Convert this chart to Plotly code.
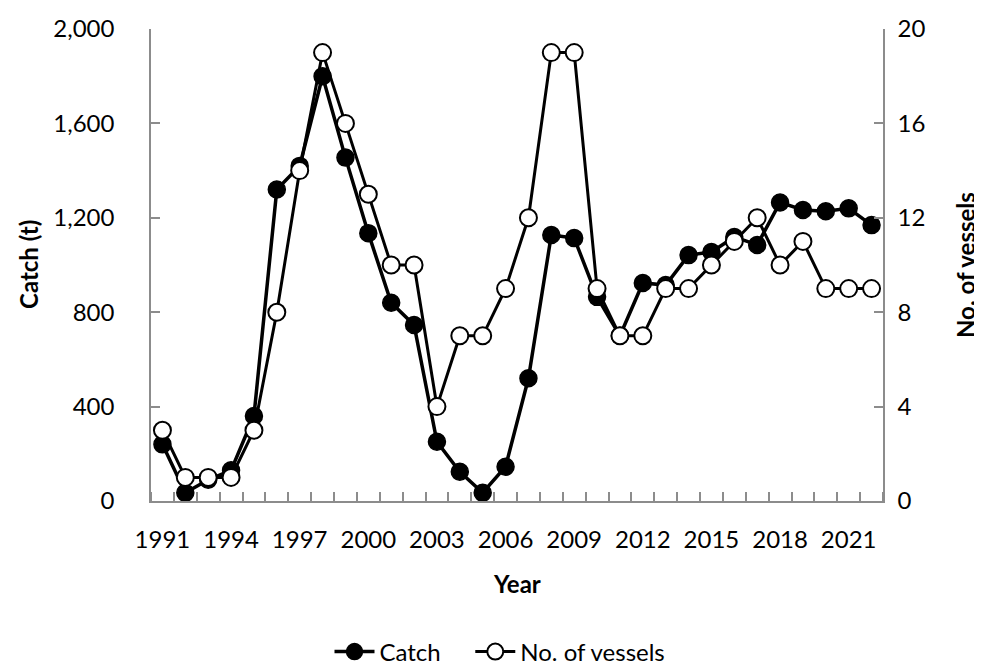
import plotly.graph_objects as go

years = list(range(1991, 2023))
catch = [240, 35, 90, 130, 360, 1320, 1420, 1800, 1455, 1135, 840, 746, 251, 124, 35, 145,
         520, 1127, 1114, 865, 700, 924, 915, 1042, 1055, 1119, 1085, 1265, 1233, 1228, 1240, 1169]
vessels = [3, 1, 1, 1, 3, 8, 14, 19, 16, 13, 10, 10, 4, 7, 7, 9,
           12, 19, 19, 9, 7, 7, 9, 9, 10, 11, 12, 10, 11, 9, 9, 9]
xtick_years = list(range(1991, 2023, 3))
catch_ticks = [0, 400, 800, 1200, 1600, 2000]
vessel_ticks = [0, 4, 8, 12, 16, 20]

FONT = "Lato"
FS = 24
OFF = 8  # page body margin
W, H = 982 - OFF, 666 - OFF
L, R, T, B = 151 - OFF, 883 - OFF, 29 - OFF, 501 - OFF
fig = go.Figure()
fig.add_trace(go.Scatter(
    x=years, y=catch, name="Catch&nbsp;&nbsp;&nbsp;&nbsp;", mode="lines+markers",
    line=dict(color="black", width=3.5),
    marker=dict(symbol="circle", size=17, color="black", line=dict(color="black", width=1.5)),
    yaxis="y"))
fig.add_trace(go.Scatter(
    x=years, y=vessels, name="No. of vessels", mode="lines+markers",
    line=dict(color="black", width=3),
    marker=dict(symbol="circle", size=17, color="white", line=dict(color="black", width=2)),
    yaxis="y2"))

axis_common = dict(showgrid=False, zeroline=False, showline=True, linecolor="#8c8c8c", linewidth=1.5,
                   tickfont=dict(family=FONT, size=FS, color="black"), automargin=False)

fig.update_layout(
    width=W, height=H,
    margin=dict(l=L, r=W - R, t=T, b=H - B, autoexpand=False),
    paper_bgcolor="white", plot_bgcolor="white",
    font=dict(family=FONT, size=FS, color="black"),
    xaxis=dict(**axis_common, range=[1990.5, 2022.5], tickmode="array",
               tickvals=xtick_years, ticktext=[str(y) for y in xtick_years], ticks="",
               ticklabelstandoff=16,
               minor=dict(tick0=1990.5, dtick=1, ticks="inside", ticklen=9, tickcolor="#8c8c8c", tickwidth=1.5)),
    yaxis=dict(**axis_common, range=[0, 2000], tickmode="array", tickvals=catch_ticks,
               ticktext=[f"{v:,}" for v in catch_ticks], ticks="inside", ticklen=9,
               tickcolor="#8c8c8c", tickwidth=1.5, ticklabelstandoff=30),
    yaxis2=dict(**axis_common, range=[0, 20], overlaying="y", side="right", tickmode="array",
                tickvals=vessel_ticks, ticks="inside", ticklen=9, tickcolor="#8c8c8c", tickwidth=1.5,
                ticklabelstandoff=8),
    legend=dict(orientation="h", x=(500 - OFF) / W, xanchor="center", xref="container",
                y=1 - (652 - OFF) / H, yanchor="middle", yref="container",
                font=dict(family=FONT, size=FS), itemwidth=40),
    showlegend=True,
    annotations=[
        dict(text="<b>Year</b>", xref="paper", yref="paper", x=0.5, y=(B - (583 - OFF)) / (B - T),
             showarrow=False, xanchor="center", yanchor="middle", font=dict(family=FONT, size=FS)),
        dict(text="<b>Catch (t)</b>", xref="paper", yref="paper", x=((28 - OFF) - L) / (R - L), y=0.5,
             textangle=-90, showarrow=False, xanchor="center", yanchor="middle", font=dict(family=FONT, size=FS)),
        dict(text="<b>No. of vessels</b>", xref="paper", yref="paper", x=((965 - OFF) - L) / (R - L), y=0.5,
             textangle=-90, showarrow=False, xanchor="center", yanchor="middle", font=dict(family=FONT, size=FS)),
    ],
)
fig.write_html("out.html")
